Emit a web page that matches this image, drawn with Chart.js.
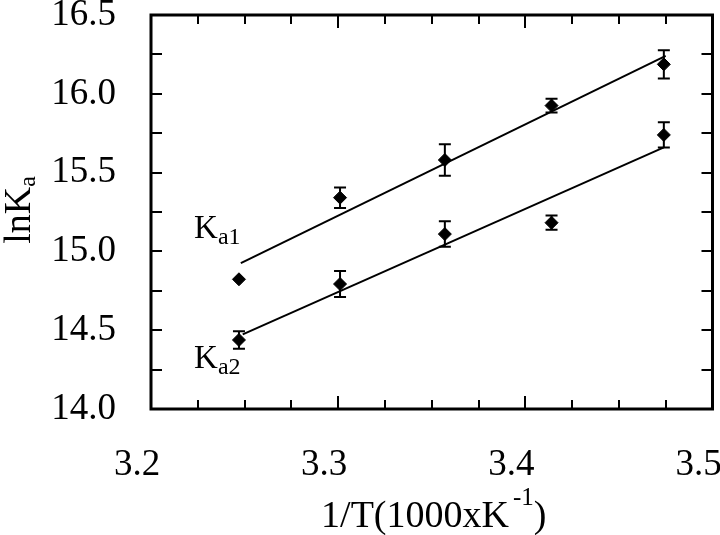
<!DOCTYPE html>
<html>
<head>
<meta charset="utf-8">
<script src="https://cdn.jsdelivr.net/npm/chart.js@4/dist/chart.umd.min.js"></script>
<style>
html,body{margin:0;padding:0;background:#fff;}
#wrap{width:720px;height:535px;}
</style>
</head>
<body>
<div id="wrap"><canvas id="c" width="720" height="535"></canvas></div>
<script>
// ---- data ----
const invT   = [3.247, 3.301, 3.357, 3.414, 3.474];      // 1/T (1000 x K^-1)
const lnKa1  = [14.823, 15.341, 15.580, 15.925, 16.187];
const errKa1 = [0.0, 0.065, 0.100, 0.043, 0.090];
const lnKa2  = [14.438, 14.793, 15.110, 15.182, 15.739];
const errKa2 = [0.055, 0.083, 0.081, 0.045, 0.080];
const fitKa1X = [3.248, 3.475];
const fitKa1Y = [14.925, 16.240];
const fitKa2X = [3.249, 3.474];
const fitKa2Y = [14.473, 15.660];
const xTickValues = [3.2, 3.3, 3.4, 3.5];
const yTickValues = [14.0, 14.5, 15.0, 15.5, 16.0, 16.5];
const xMinorStep = 0.025;
const yMinorStep = 0.25;
const seriesMain = ['K', 'K'];
const seriesSub  = ['a1', 'a2'];
const yTitleMain = 'lnK', yTitleSub = 'a';
const xTitleMain = '1/T(1000xK', xTitleSup = '-1', xTitleEnd = ')';

const SERIF = "'Liberation Serif', 'Times New Roman', serif";
Chart.defaults.font.family = SERIF;
Chart.defaults.color = '#000';

const pts = (xs, ys) => xs.map((v, i) => ({x: v, y: ys[i]}));

const errPlugin = {
  id: 'errbars',
  afterDatasetsDraw(chart) {
    const {ctx, scales: {x, y}} = chart;
    const sets = [[lnKa1, errKa1], [lnKa2, errKa2]];
    ctx.save();
    ctx.strokeStyle = '#000';
    ctx.lineWidth = 2;
    sets.forEach(([vals, errs]) => {
      vals.forEach((v, i) => {
        if (!errs[i]) return;
        const px = x.getPixelForValue(invT[i]);
        const yt = y.getPixelForValue(v + errs[i]);
        const yb = y.getPixelForValue(v - errs[i]);
        const cw = 6;
        ctx.beginPath();
        ctx.moveTo(px, yt); ctx.lineTo(px, yb);
        ctx.moveTo(px - cw, yt); ctx.lineTo(px + cw, yt);
        ctx.moveTo(px - cw, yb); ctx.lineTo(px + cw, yb);
        ctx.stroke();
      });
    });
    ctx.restore();
  }
};

const framePlugin = {
  id: 'frame',
  afterDraw(chart) {
    const {ctx, chartArea: a, scales: {x, y}} = chart;
    ctx.save();
    ctx.strokeStyle = '#000';
    ctx.fillStyle = '#000';
    // minor / major ticks, all sides, pointing inward
    ctx.lineWidth = 2;
    ctx.beginPath();
    const nx = Math.round((x.max - x.min) / xMinorStep);
    for (let k = 1; k < nx; k++) {
      const v = x.min + k * xMinorStep;
      const px = Math.round(x.getPixelForValue(v));
      const major = xTickValues.some(t => Math.abs(t - v) < 1e-6);
      const len = major ? 13 : 9;
      ctx.moveTo(px, a.bottom); ctx.lineTo(px, a.bottom - len);
      ctx.moveTo(px, a.top); ctx.lineTo(px, a.top + len);
    }
    const ny = Math.round((y.max - y.min) / yMinorStep);
    for (let k = 1; k < ny; k++) {
      const v = y.min + k * yMinorStep;
      const py = Math.round(y.getPixelForValue(v));
      const len = 11;
      ctx.moveTo(a.left, py); ctx.lineTo(a.left + len, py);
      ctx.moveTo(a.right, py); ctx.lineTo(a.right - len, py);
    }
    ctx.stroke();
    // frame
    ctx.lineWidth = 3;
    ctx.strokeRect(a.left, a.top, a.right - a.left, a.bottom - a.top);

    // x axis title with superscript
    ctx.textBaseline = 'alphabetic';
    ctx.textAlign = 'left';
    const fBig = '38px ' + SERIF, fSmall = '25px ' + SERIF;
    ctx.font = fBig;
    const w1 = ctx.measureText(xTitleMain).width;
    const w3 = ctx.measureText(xTitleEnd).width;
    ctx.font = fSmall;
    const w2 = ctx.measureText(xTitleSup).width;
    const gap = 4;
    const total = w1 + gap + w2 + w3;
    let sx = (a.left + a.right) / 2 + 2 - total / 2;
    const by = 527;
    ctx.font = fBig; ctx.fillText(xTitleMain, sx, by);
    ctx.font = fSmall; ctx.fillText(xTitleSup, sx + w1 + gap, by - 22);
    ctx.font = fBig; ctx.fillText(xTitleEnd, sx + w1 + gap + w2, by);

    // y axis title with subscript (rotated)
    ctx.save();
    const cy = (a.top + a.bottom) / 2 - 2;
    ctx.translate(30, cy);
    ctx.rotate(-Math.PI / 2);
    ctx.font = '38px ' + SERIF;
    const yw1 = ctx.measureText(yTitleMain).width;
    ctx.font = '24px ' + SERIF;
    const yw2 = ctx.measureText(yTitleSub).width;
    const ys = -(yw1 + yw2) / 2;
    ctx.font = '38px ' + SERIF; ctx.fillText(yTitleMain, ys, 0);
    ctx.font = '24px ' + SERIF; ctx.fillText(yTitleSub, ys + yw1, 5);
    ctx.restore();

    // series labels K_a1, K_a2 anchored through the scales
    const anchors = [[3.223, 15.085], [3.223, 14.26]];
    anchors.forEach(([vx, vy], i) => {
      const px = x.getPixelForValue(vx), py = y.getPixelForValue(vy);
      ctx.font = '33px ' + SERIF;
      const kw = ctx.measureText(seriesMain[i]).width;
      ctx.fillText(seriesMain[i], px, py);
      ctx.font = '24px ' + SERIF;
      ctx.fillText(seriesSub[i], px + kw, py + 6);
    });
    ctx.restore();
  }
};

const markerStyle = {
  showLine: false,
  pointStyle: 'rectRot',
  pointRadius: 6.5,
  pointBorderWidth: 1,
  pointBackgroundColor: '#000',
  pointBorderColor: '#000',
  borderColor: '#000',
  backgroundColor: '#000'
};
const lineStyle = {
  type: 'line',
  showLine: true,
  borderColor: '#000',
  borderWidth: 2,
  pointRadius: 0,
  tension: 0,
  fill: false
};

new Chart(document.getElementById('c'), {
  type: 'scatter',
  data: {
    datasets: [
      Object.assign({label: 'fit Ka1', data: pts(fitKa1X, fitKa1Y)}, lineStyle),
      Object.assign({label: 'fit Ka2', data: pts(fitKa2X, fitKa2Y)}, lineStyle),
      Object.assign({label: 'Ka1', data: pts(invT, lnKa1)}, markerStyle),
      Object.assign({label: 'Ka2', data: pts(invT, lnKa2)}, markerStyle)
    ]
  },
  options: {
    responsive: false,
    animation: false,
    events: [],
    devicePixelRatio: 1,
    layout: {padding: {left: 0, right: 7, top: 15, bottom: 0}},
    plugins: {legend: {display: false}, tooltip: {enabled: false}},
    scales: {
      x: {
        type: 'linear',
        min: 3.2, max: 3.5,
        afterBuildTicks: s => { s.ticks = xTickValues.map(v => ({value: v})); },
        afterFit: s => { s.height = 126; s.paddingLeft = 0; s.paddingRight = 0; },
        grid: {display: false, drawTicks: false},
        border: {display: false},
        ticks: {
          font: {size: 37, family: SERIF},
          color: '#000',
          padding: 34,
          labelOffset: -14,
          maxRotation: 0,
          autoSkip: false,
          callback: v => Number(v).toFixed(1)
        }
      },
      y: {
        type: 'linear',
        min: 14, max: 16.5,
        afterBuildTicks: s => { s.ticks = yTickValues.map(v => ({value: v})); },
        afterFit: s => { s.width = 151; s.paddingTop = 0; s.paddingBottom = 0; },
        grid: {display: false, drawTicks: false},
        border: {display: false},
        ticks: {
          font: {size: 37, family: SERIF},
          color: '#000',
          padding: 35,
          autoSkip: false,
          callback: v => Number(v).toFixed(1)
        }
      }
    }
  },
  plugins: [errPlugin, framePlugin]
});
</script>
</body>
</html>
